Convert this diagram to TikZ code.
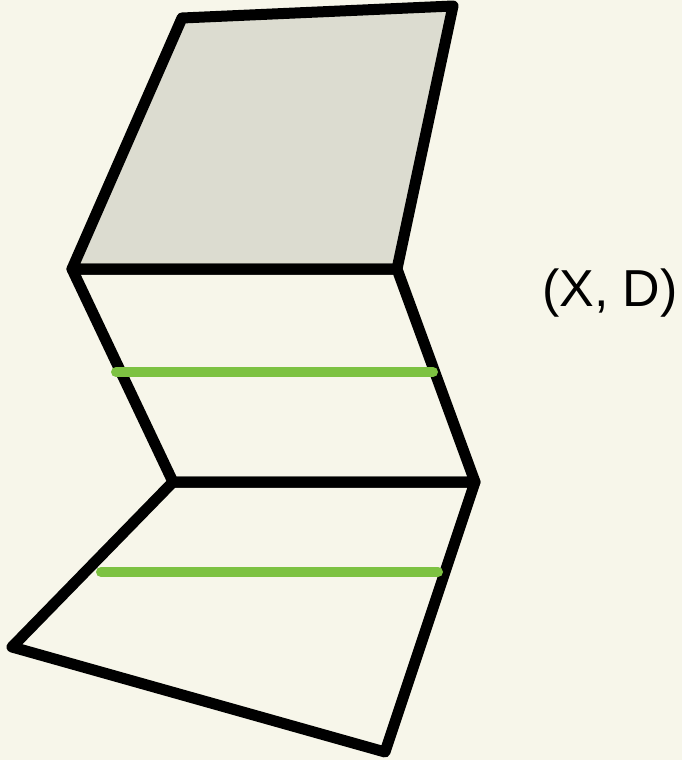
\documentclass[tikz,border=0pt]{standalone}
\usepackage{fontspec}
\setmainfont{Liberation Sans}
\definecolor{bg}{HTML}{F7F6EA}
\definecolor{panel}{HTML}{DCDCD0}
\definecolor{leaf}{HTML}{7DC242}
\begin{document}
\begin{tikzpicture}[x=1pt,y=-1pt,
  edge/.style={draw=black,line width=11pt,line join=round,line cap=round},
  greenline/.style={draw=leaf,line width=10pt,line cap=round}]
\fill[bg] (0,0) rectangle (682,760);
\useasboundingbox (0,0) rectangle (682,760);
\coordinate (a) at (182,18);
\coordinate (b) at (453,6);
\coordinate (c) at (397,269);
\coordinate (d) at (72,269);
\coordinate (e) at (475,482);
\coordinate (f) at (173,482);
\coordinate (g) at (385,752);
\coordinate (h) at (12,647);
\coordinate (g1) at (116,372);
\coordinate (g2) at (433,372);
\coordinate (g3) at (101,572);
\coordinate (g4) at (438,572);
\path[edge,fill=panel] (a) -- (b) -- (c) -- (d) -- cycle;
\path[edge] (d) -- (c) -- (e) -- (f) -- cycle;
\path[edge] (f) -- (e) -- (g) -- (h) -- cycle;
\path[greenline] (g1) -- (g2);
\path[greenline] (g3) -- (g4);
\node[font=\fontsize{52}{56}\selectfont,inner sep=0pt] (lbl) at (610,293) {(X, D)};
\end{tikzpicture}
\end{document}
